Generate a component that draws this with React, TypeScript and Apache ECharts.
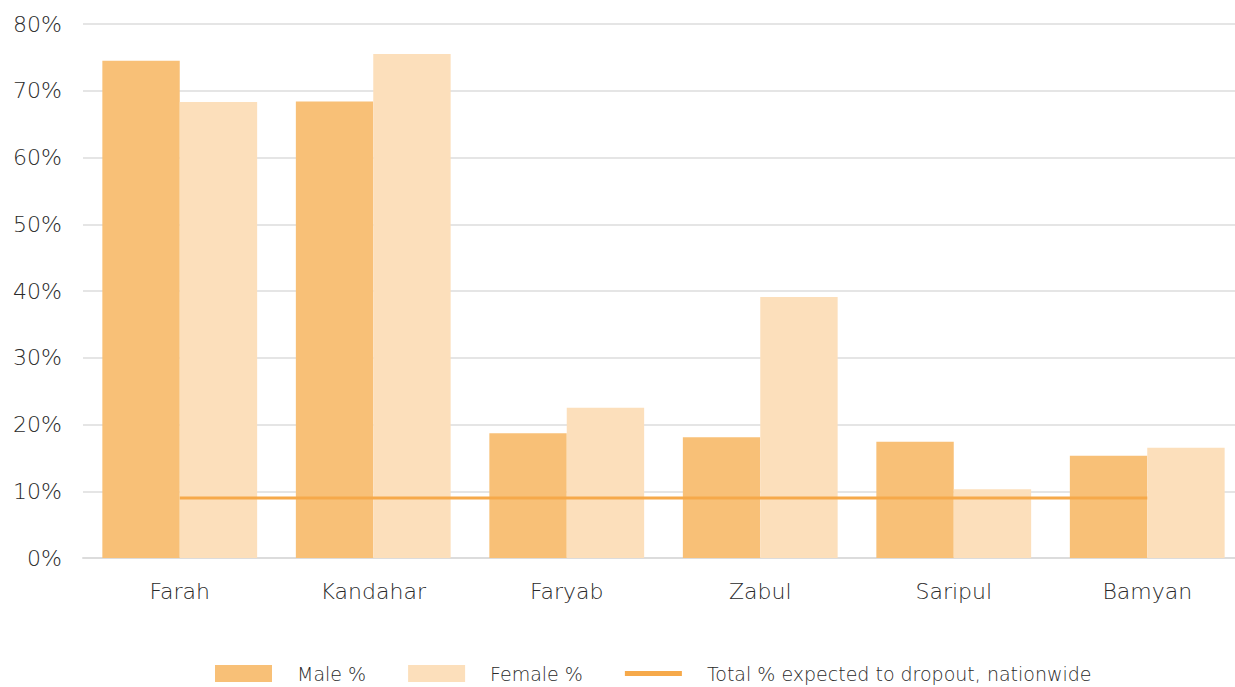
import React, { useEffect, useRef } from "react";
import * as echarts from "echarts";

const categories = ["Farah", "Kandahar", "Faryab", "Zabul", "Saripul", "Bamyan"];
const maleValues = [74.5, 68.4, 18.7, 18.1, 17.4, 15.3];
const femaleValues = [68.3, 75.5, 22.5, 39.1, 10.3, 16.5];
const nationwideValues = [9.0, 9.0, 9.0, 9.0, 9.0, 9.0];
const yTicks = [0, 10, 20, 30, 40, 50, 60, 70, 80];

const FONT = "'DejaVu Sans', 'Noto Sans', sans-serif";

export default function App() {
  const ref = useRef<HTMLDivElement>(null);
  useEffect(() => {
    document.body.style.margin = "0";
    document.body.style.overflow = "hidden";
    const chart = echarts.init(ref.current!, null, { renderer: "svg" });
    chart.setOption({
      animation: false,
      textStyle: { fontFamily: FONT },
      grid: { left: 83, right: 0, top: 24, bottom: 129, containLabel: false },
      legend: {
        bottom: 4,
        left: 9 + 215 - 9,
        padding: 0,
        itemWidth: 57,
        itemHeight: 17,
        itemGap: 42,
        textStyle: { color: "#2a2a2a", fontSize: 19, fontWeight: 200, fontFamily: FONT, padding: [0, 0, 0, 20] },
        data: [
          { name: "Male %", icon: "rect" },
          { name: "Female %", icon: "rect" },
          {
            name: "Total % expected to dropout, nationwide",
            icon: "path://M0,0 L57,0 L57,5 L0,5 Z",
            itemStyle: { color: "#F6A94A" },
          },
        ],
      },
      xAxis: {
        type: "category",
        data: categories,
        axisLine: { lineStyle: { color: "#dcdcdc", width: 2 } },
        axisTick: { show: false },
        axisLabel: { color: "#2a2a2a", fontSize: 22, fontWeight: 200, margin: 22, fontFamily: FONT },
      },
      yAxis: {
        type: "value",
        min: yTicks[0],
        max: yTicks[yTicks.length - 1],
        interval: 10,
        axisLine: { show: false },
        axisTick: { show: false },
        splitLine: { lineStyle: { color: "#dcdcdc", width: 1.5 } },
        axisLabel: {
          color: "#2a2a2a",
          fontSize: 22,
          fontWeight: 200,
          margin: 21,
          fontFamily: FONT,
          formatter: (v: number) => `${v}%`,
        },
      },
      series: [
        {
          name: "Male %",
          type: "bar",
          data: maleValues,
          barGap: "0%",
          barCategoryGap: "20%",
          itemStyle: { color: "#F8C077" },
        },
        {
          name: "Female %",
          type: "bar",
          data: femaleValues,
          itemStyle: { color: "#FCDFBB" },
        },
        {
          name: "Total % expected to dropout, nationwide",
          type: "line",
          data: nationwideValues,
          symbol: "none",
          z: 5,
          lineStyle: { color: "#F6A94A", width: 3 },
          itemStyle: { color: "#F6A94A" },
        },
      ],
    });
    return () => chart.dispose();
  }, []);
  return (
    <div
      ref={ref}
      style={{ position: "absolute", left: 0, top: 0, width: 1244, height: 687 }}
    />
  );
}
